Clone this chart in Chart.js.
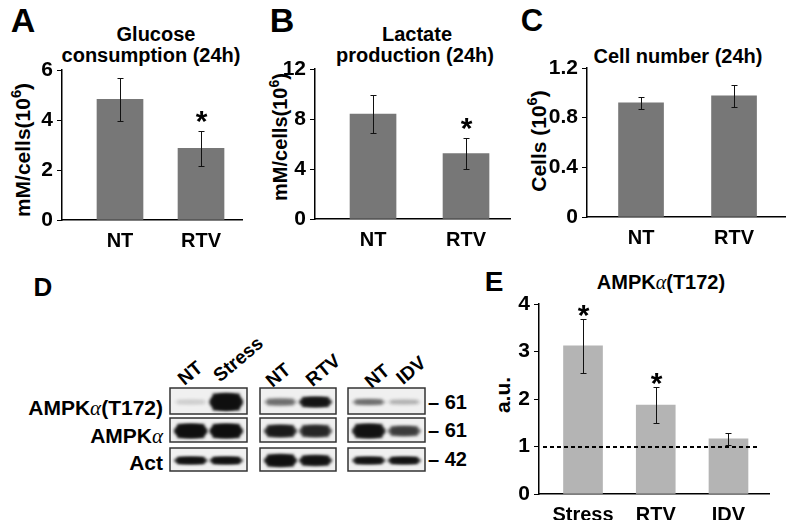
<!DOCTYPE html>
<html>
<head>
<meta charset="utf-8">
<script src="https://cdn.jsdelivr.net/npm/chart.js@4.4.1/dist/chart.umd.min.js"></script>
<style>
  body { margin: 0; width: 789px; height: 520px; overflow: hidden; position: relative; background: #fff;
         font-family: "Liberation Sans", Arial, sans-serif; font-weight: bold; color: #000; }
  canvas { position: absolute; }
  .t { position: absolute; white-space: nowrap; line-height: 1; transform: translate(-50%, -50%); }
  .r { position: absolute; white-space: nowrap; line-height: 1; transform: translate(-100%, -50%); }
  .l { position: absolute; white-space: nowrap; line-height: 1; transform: translate(0, -50%); }
  .a { font-family: "Liberation Serif", "DejaVu Serif", serif; font-weight: normal; font-style: italic; }
  sup { font-size: 0.7em; vertical-align: 0.55em; line-height: 0; }
</style>
</head>
<body>

<!-- panel letters -->
<div class="t" style="left:23px;top:20px;font-size:34px">A</div>
<div class="t" style="left:282px;top:20px;font-size:34px">B</div>
<div class="t" style="left:532px;top:20px;font-size:31px">C</div>
<div class="t" style="left:43px;top:287px;font-size:26px">D</div>
<div class="t" style="left:494px;top:282px;font-size:28px">E</div>

<!-- titles -->
<div class="t" style="left:156px;top:34px;font-size:20px">Glucose</div>
<div class="t" style="left:151px;top:55px;font-size:20px">consumption (24h)</div>
<div class="t" style="left:417px;top:34px;font-size:20px">Lactate</div>
<div class="t" style="left:415px;top:55px;font-size:20px">production (24h)</div>
<div class="t" style="left:678px;top:56px;font-size:20px">Cell number (24h)</div>
<div class="t" style="left:661px;top:282px;font-size:20px">AMPK<span class="a">α</span>(T172)</div>

<!-- y axis titles -->
<div class="t" style="left:22px;top:150px;font-size:21px;transform:translate(-50%,-50%) rotate(-90deg)">mM/cells(10<sup>6</sup>)</div>
<div class="t" style="left:280px;top:137px;font-size:20px;transform:translate(-50%,-50%) rotate(-90deg)">mM/cells(10<sup>6</sup>)</div>
<div class="t" style="left:538px;top:141px;font-size:21px;transform:translate(-50%,-50%) rotate(-90deg)">Cells (10<sup>6</sup>)</div>
<div class="t" style="left:502px;top:395px;font-size:21px;transform:translate(-50%,-50%) rotate(-90deg)">a.u.</div>

<!-- blot labels -->
<div id="blotText"></div>

<canvas id="blot" width="789" height="520" style="left:0;top:0"></canvas>
<canvas id="chartA"></canvas>
<canvas id="chartB"></canvas>
<canvas id="chartC"></canvas>
<canvas id="chartE"></canvas>

<script>
// ---- data ----
const ntRtv = ['NT', 'RTV'];
const glucose = [4.83, 2.87];
const glucoseErr = [0.86, 0.70];
const glucoseStar = [false, true];
const glucoseTicks = [0, 2, 4, 6];

const lactate = [8.4, 5.23];
const lactateErr = [1.55, 1.25];
const lactateStar = [false, true];
const lactateTicks = [0, 4, 8, 12];

const cellNumber = [0.92, 0.976];
const cellNumberErr = [0.048, 0.088];
const cellNumberStar = [false, false];
const cellNumberTicks = [0, 0.4, 0.8, 1.2];

const ampkLabels = ['Stress', 'RTV', 'IDV'];
const ampk = [3.12, 1.87, 1.16];
const ampkErr = [0.57, 0.38, 0.12];
const ampkStar = [true, true, false];
const ampkTicks = [0, 1, 2, 3, 4];
const ampkBaseline = 1;

// western blot (panel D)
const laneLabels = ['NT', 'Stress', 'NT', 'RTV', 'NT', 'IDV'];
const rowLabels = ['AMPK<span class="a">α</span>(T172)', 'AMPK<span class="a">α</span>', 'Act'];
const markers = ['61', '61', '42'];
// band darkness per row, per lane
const bandDark = [
  [0.08, 0.95, 0.35, 0.85, 0.35, 0.15],
  [0.95, 0.95, 0.78, 0.68, 0.88, 0.55],
  [0.92, 0.92, 0.92, 0.88, 0.88, 0.88]
];
const bandThick = [
  [5, 17, 7, 10, 6, 5],
  [14, 14, 12, 12, 14, 10],
  [7, 7, 12, 10, 7, 7]
];

// ---- plugins ----
const errorBars = {
  id: 'errorBars',
  afterDatasetsDraw(chart, args, o) {
    const { ctx, scales: { x, y } } = chart;
    ctx.save();
    ctx.strokeStyle = '#111';
    ctx.lineWidth = 1;
    o.values.forEach((v, i) => {
      const px = Math.round(x.getPixelForValue(i)) + 0.5;
      const top = Math.round(y.getPixelForValue(v + o.err[i])) + 0.5;
      const bot = Math.round(y.getPixelForValue(v - o.err[i])) + 0.5;
      ctx.beginPath();
      ctx.moveTo(px, top); ctx.lineTo(px, bot);
      ctx.moveTo(px - 3, top); ctx.lineTo(px + 3, top);
      ctx.moveTo(px - 3, bot); ctx.lineTo(px + 3, bot);
      ctx.stroke();
      if (o.stars[i]) {
        ctx.fillStyle = '#000';
        ctx.font = 'bold 30px "Liberation Sans", Arial';
        ctx.textAlign = 'center';
        ctx.textBaseline = 'alphabetic';
        ctx.fillText('*', px, top - o.starGap + 17);
      }
    });
    ctx.restore();
  }
};

const dashedLine = {
  id: 'dashedLine',
  afterDatasetsDraw(chart, args, o) {
    if (o.value == null) return;
    const { ctx, chartArea, scales: { y } } = chart;
    const py = Math.round(y.getPixelForValue(o.value));
    ctx.save();
    ctx.strokeStyle = '#000';
    ctx.lineWidth = 2;
    ctx.setLineDash([4, 3]);
    ctx.beginPath();
    ctx.moveTo(chartArea.left + 4, py);
    ctx.lineTo(chartArea.right - 9, py);
    ctx.stroke();
    ctx.restore();
  }
};

// ---- bar panels ----
function barPanel(id, box, labels, values, err, stars, ticks, color, opts) {
  const cv = document.getElementById(id);
  cv.style.left = box.left + 'px';
  cv.style.top = box.top + 'px';
  cv.width = box.width;
  cv.height = box.height;
  const yMax = ticks[ticks.length - 1];
  new Chart(cv, {
    type: 'bar',
    data: {
      datasets: [{
        data: values.map((v, i) => ({ x: i, y: v })),
        backgroundColor: color,
        borderWidth: 0,
        barThickness: opts.barWidth
      }]
    },
    options: {
      responsive: false,
      animation: false,
      layout: {
        padding: {
          left: 0,
          top: box.plotTop - box.top,
          right: box.left + box.width - box.plotRight,
          bottom: 0
        }
      },
      plugins: {
        legend: { display: false },
        tooltip: { enabled: false },
        errorBars: { values, err, stars, starGap: opts.starGap },
        dashedLine: { value: opts.baseline }
      },
      scales: {
        x: {
          type: 'linear',
          offset: false,
          min: opts.xMin,
          max: opts.xMax,
          afterBuildTicks: s => { s.ticks = labels.map((_, i) => ({ value: i })); },
          afterFit: s => { s.height = box.top + box.height - box.plotBottom; },
          grid: { display: false, drawTicks: false, offset: false },
          border: { display: true, color: '#000', width: 1.5 },
          ticks: {
            callback: v => labels[v],
            color: '#000',
            font: { family: '"Liberation Sans", Arial', weight: 'bold', size: 20 },
            padding: 9,
            maxRotation: 0,
            autoSkip: false
          }
        },
        y: {
          min: 0,
          max: yMax,
          afterBuildTicks: s => { s.ticks = ticks.map(v => ({ value: v })); },
          afterFit: s => { s.width = box.plotLeft - box.left; },
          grid: { display: true, drawOnChartArea: false, drawTicks: true, tickLength: 5, color: '#000', lineWidth: 1 },
          border: { display: true, color: '#000', width: 1.5 },
          ticks: {
            color: '#000',
            font: { family: '"Liberation Sans", Arial', weight: 'bold', size: 21 },
            padding: 4
          }
        }
      }
    },
    plugins: [errorBars, dashedLine]
  });
}

barPanel('chartA',
  { left: 0, top: 50, width: 258, height: 200, plotLeft: 62, plotRight: 242, plotTop: 70, plotBottom: 220 },
  ntRtv, glucose, glucoseErr, glucoseStar, glucoseTicks, '#777777',
  { xMin: -0.716, xMax: 1.506, barWidth: 46, starGap: 18 });

barPanel('chartB',
  { left: 262, top: 49, width: 262, height: 200, plotLeft: 315, plotRight: 510, plotTop: 69, plotBottom: 219 },
  ntRtv, lactate, lactateErr, lactateStar, lactateTicks, '#777777',
  { xMin: -0.624, xMax: 1.473, barWidth: 46, starGap: 18 });

barPanel('chartC',
  { left: 530, top: 48, width: 259, height: 200, plotLeft: 587, plotRight: 785, plotTop: 68, plotBottom: 217 },
  ntRtv, cellNumber, cellNumberErr, cellNumberStar, cellNumberTicks, '#777777',
  { xMin: -0.581, xMax: 1.548, barWidth: 45, starGap: 18 });

barPanel('chartE',
  { left: 508, top: 284, width: 281, height: 236, plotLeft: 539, plotRight: 769, plotTop: 304, plotBottom: 494 },
  ampkLabels, ampk, ampkErr, ampkStar, ampkTicks, '#b4b4b4',
  { xMin: -0.605, xMax: 2.557, barWidth: 39, starGap: 12, baseline: ampkBaseline });

// ---- panel D: blot ----
const groups = [[170, 247], [260, 336], [348, 425]];
const rows = [[388, 414], [418, 442], [448, 471]];
const ctx = document.getElementById('blot').getContext('2d');
rows.forEach((r, ri) => {
  groups.forEach((g, gi) => {
    const [x0, x1] = g, [y0, y1] = r;
    ctx.save();
    ctx.fillStyle = '#f0f0f0';
    ctx.fillRect(x0, y0, x1 - x0, y1 - y0);
    ctx.beginPath();
    ctx.rect(x0, y0, x1 - x0, y1 - y0);
    ctx.clip();
    ctx.filter = 'blur(1.8px)';
    [0.27, 0.73].forEach((f, li) => {
      const k = gi * 2 + li;
      const d = bandDark[ri][k], h = bandThick[ri][k];
      const cx = x0 + (x1 - x0) * f, cy = (y0 + y1) / 2 + 1;
      const w = (x1 - x0) * 0.44;
      ctx.fillStyle = `rgba(15,15,15,${d})`;
      ctx.beginPath();
      ctx.ellipse(cx, cy, w / 2, h / 2, 0, 0, Math.PI * 2);
      ctx.fill();
      ctx.fillRect(cx - w * 0.4, cy - h / 2, w * 0.8, h);
    });
    ctx.restore();
    ctx.strokeStyle = '#333';
    ctx.lineWidth = 1.5;
    ctx.strokeRect(x0, y0, x1 - x0, y1 - y0);
  });
});

const laneCenters = [[190, 373], [238, 359], [278, 375], [323, 370], [377, 376], [411, 370]];
const rowTextY = [408, 436, 462];
const markerY = [402, 430, 459];
let html = '';
laneLabels.forEach((s, i) => {
  const [cx, cy] = laneCenters[i];
  html += `<div class="t" style="left:${cx}px;top:${cy}px;font-size:19px;transform:translate(-50%,-50%) rotate(-40deg)">${s}</div>`;
});
rowLabels.forEach((s, i) => {
  html += `<div class="r" style="left:163px;top:${rowTextY[i]}px;font-size:21px">${s}</div>`;
});
markers.forEach((s, i) => {
  html += `<div class="l" style="left:428px;top:${markerY[i]}px;font-size:20px">– ${s}</div>`;
});
document.getElementById('blotText').innerHTML = html;
</script>
</body>
</html>
